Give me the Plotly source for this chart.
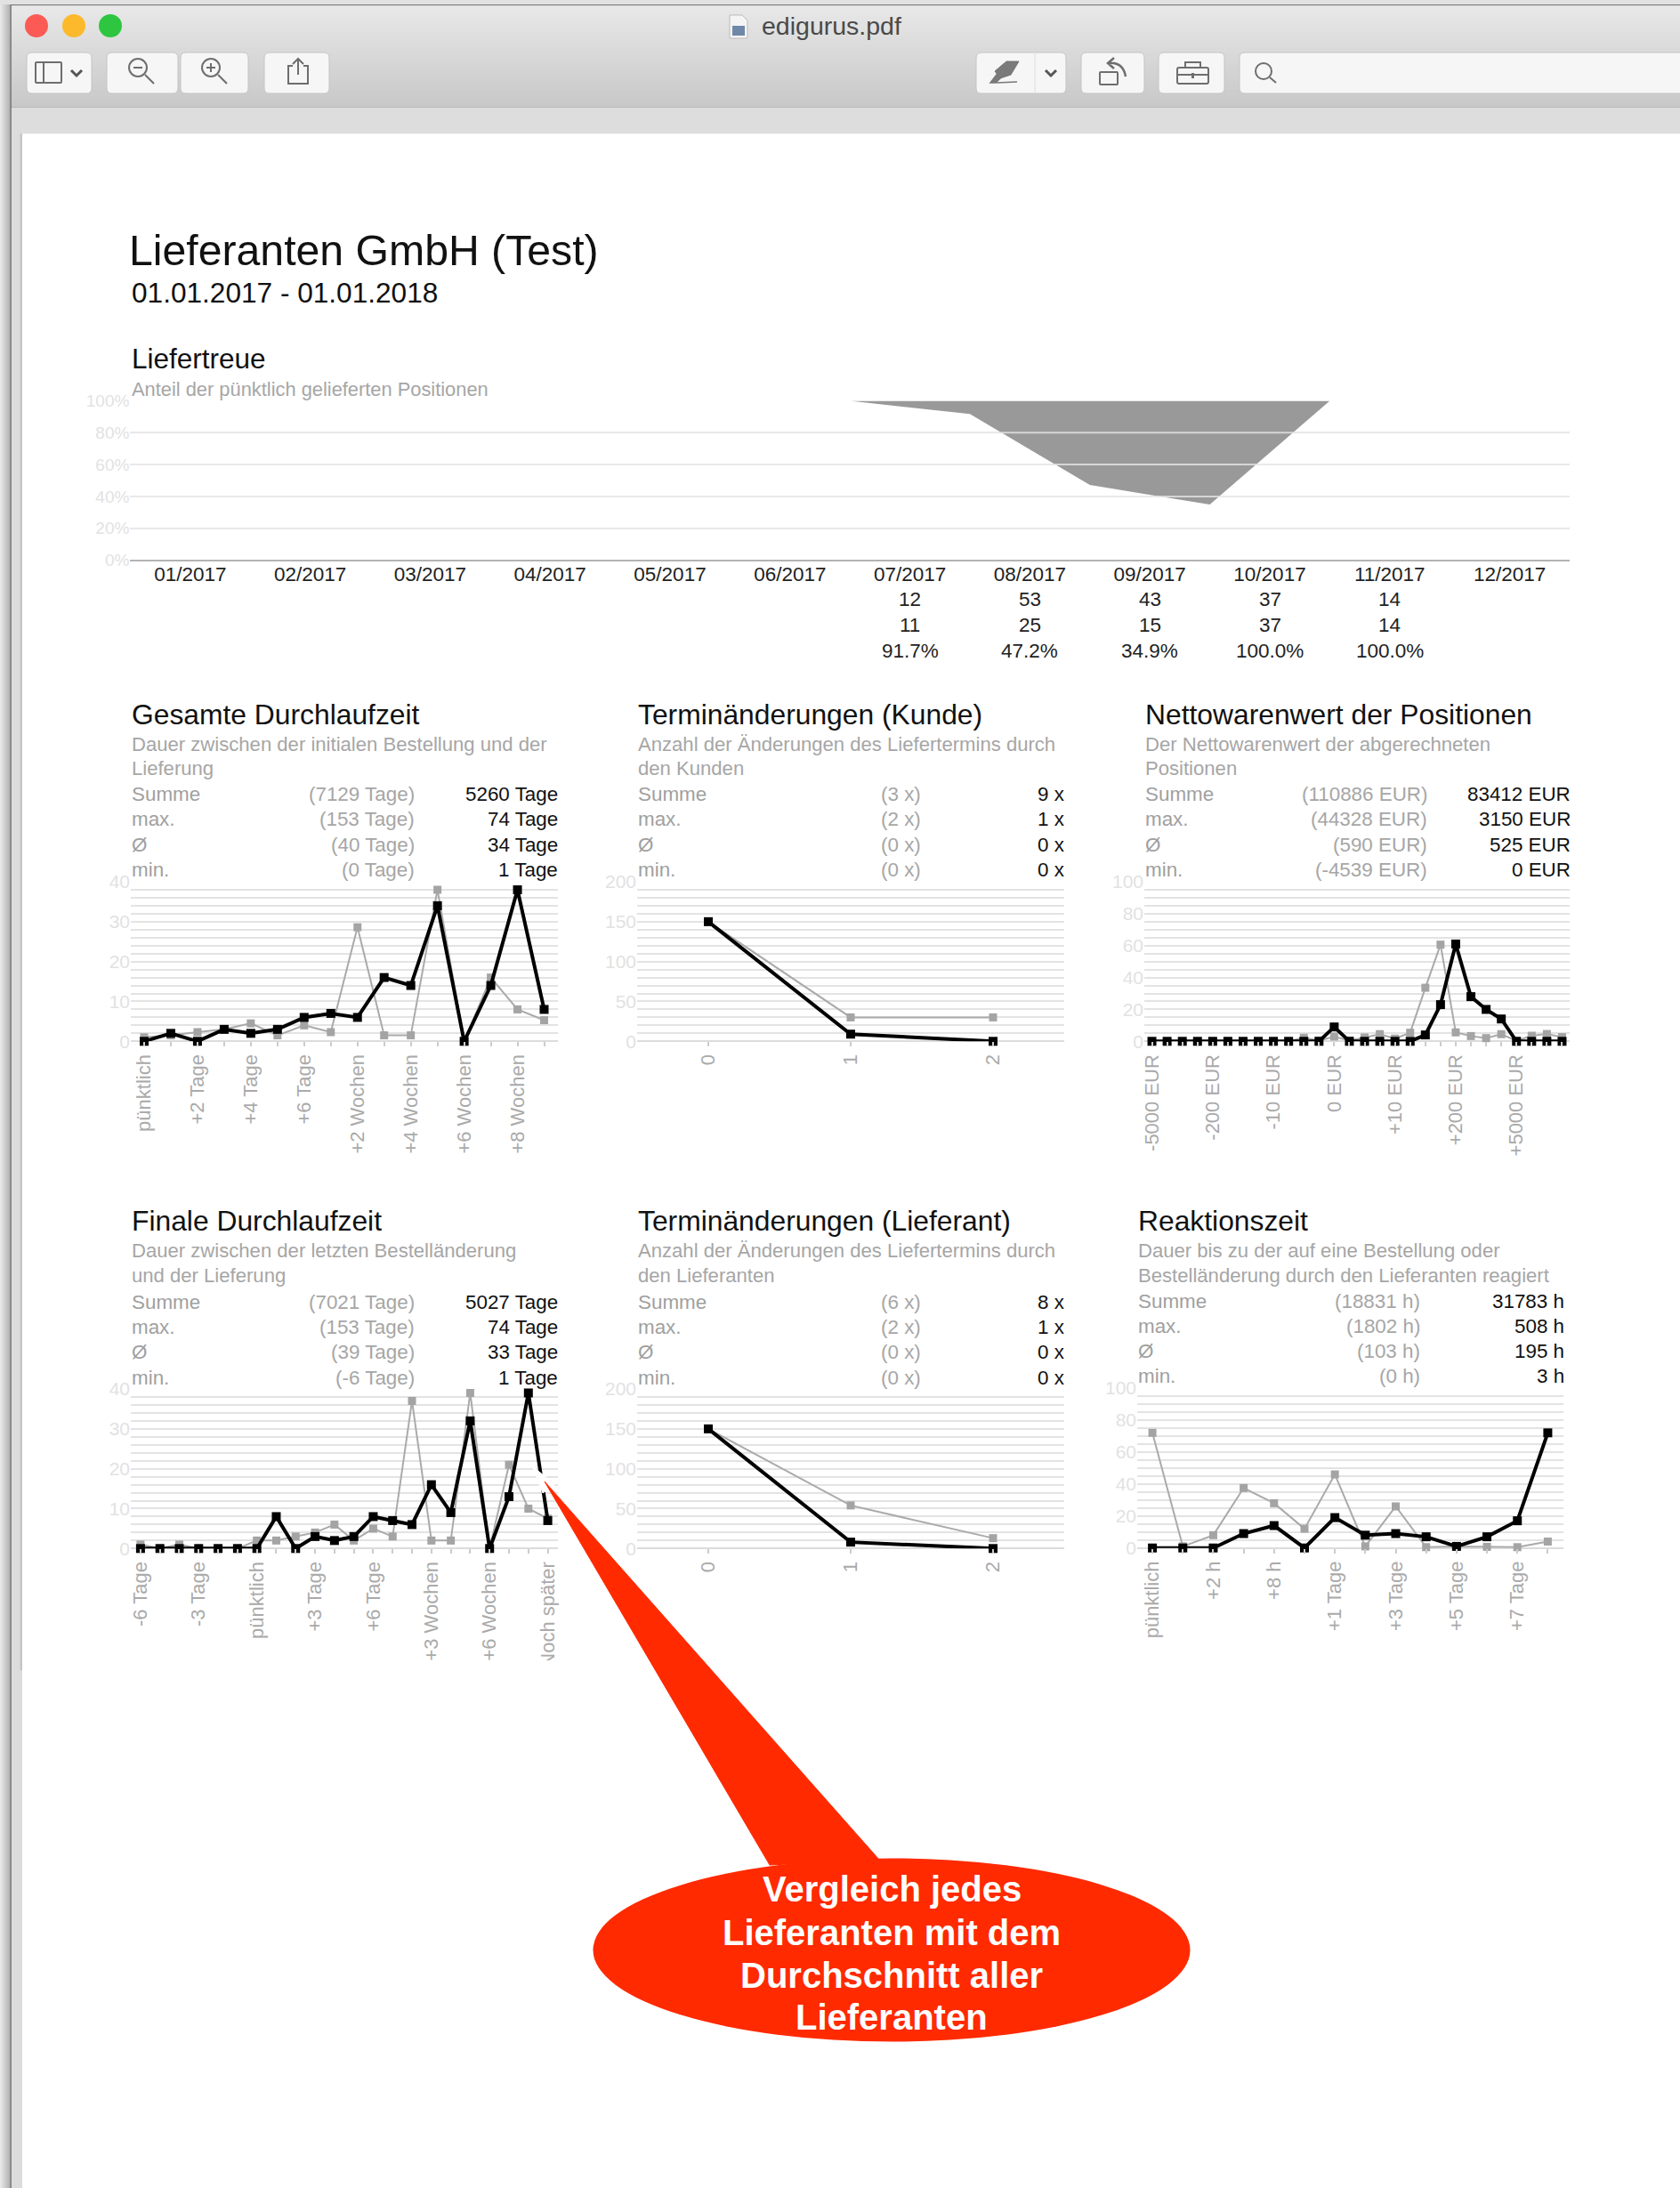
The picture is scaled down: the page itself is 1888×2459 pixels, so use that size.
import plotly.graph_objects as go

W, H = 1888, 2459
FONT = "Liberation Sans"

# ---------------- data ----------------
months = ["01/2017","02/2017","03/2017","04/2017","05/2017","06/2017","07/2017","08/2017","09/2017","10/2017","11/2017","12/2017"]
treue_edges = [6, 7, 8, 9, 10]
treue_values = [100, 91.7, 47.2, 34.9, 100]
treue_top = [100, 100, 100, 100, 100]
row_positions = ["12","53","43","37","14"]
row_ontime = ["11","25","15","37","14"]
row_share = ["91.7%","47.2%","34.9%","100.0%","100.0%"]
row_months = [6, 7, 8, 9, 10]

gesamt_labels = ["pünktlich","","+2 Tage","","+4 Tage","","+6 Tage","","+2 Wochen","","+4 Wochen","","+6 Wochen","","+8 Wochen",""]
gesamt_self = [0,2,0,3,2,3,6,7,6,16,14,34,0,14,38,8]
gesamt_all = [1,1.5,2.3,3,4.5,1.5,4,2.3,28.6,1.5,1.5,38,0,16,8,5.3]

kunde_labels = ["0","1","2"]
kunde_self = [150,9,0]
kunde_all = [150,30,30]

netto_labels = ["-5000 EUR","","","","-200 EUR","","","","-10 EUR","","","","0 EUR","","","","+10 EUR","","","","+200 EUR","","","","+5000 EUR","","",""]
netto_self = [0,0,0,0,0,0,0,0,0,0,0,0,9,0,0,0,0,0,4,23,61,28,20,14,0,0,0,0]
netto_all = [0,0,0,0,0,0,0,0,0,0,2.2,0.5,3,0.5,2.4,4.5,1.7,5.4,33.6,60.6,5.6,3.3,2,4.5,0.3,3.5,4.6,2.6]

final_labels = ["-6 Tage","","","-3 Tage","","","pünktlich","","","+3 Tage","","","+6 Tage","","","+3 Wochen","","","+6 Wochen","","","Noch später"]
final_self = [0,0,0,0,0,0,0,8,0,3,2,3,8,7,6,16,9,32,0,13,39,7]
final_all = [1,0,1,0,0,0,2,2,3,4,6,2,5,3,37,2,2,39,0,21,10,7.5]

liefer_labels = ["0","1","2"]
liefer_self = [150,8,0]
liefer_all = [150,54,13]

reakt_labels = ["pünktlich","","+2 h","","+8 h","","+1 Tage","","+3 Tage","","+5 Tage","","+7 Tage",""]
reakt_self = [0,0,0,9,14,0,19,8,9,7,1,7,17,72]
reakt_all = [72,1,8,37.5,28,12,46,1,26,0.5,1,0.7,0.5,4]

row_names = ["Summe","max.","Ø","min."]

panels = [
 dict(title="Gesamte Durchlaufzeit", sub=["Dauer zwischen der initialen Bestellung und der","Lieferung"],
      avg=["(7129 Tage)","(153 Tage)","(40 Tage)","(0 Tage)"], own=["5260 Tage","74 Tage","34 Tage","1 Tage"],
      labels=gesamt_labels, own_v=gesamt_self, all_v=gesamt_all, ymax=40, dmaj=10,
      box=(147,626.5,991,1170.3), ty=803, sy=(836,863), ry=(892,920,949,977), c2=467, c3=628),
 dict(title="Terminänderungen (Kunde)", sub=["Anzahl der Änderungen des Liefertermins durch","den Kunden"],
      avg=["(3 x)","(2 x)","(0 x)","(0 x)"], own=["9 x","1 x","0 x","0 x"],
      labels=kunde_labels, own_v=kunde_self, all_v=kunde_all, ymax=200, dmaj=50,
      box=(716,1196,991,1170.3), ty=803, sy=(836,863), ry=(892,920,949,977), c2=1036, c3=1196.5),
 dict(title="Nettowarenwert der Positionen", sub=["Der Nettowarenwert der abgerechneten","Positionen"],
      avg=["(110886 EUR)","(44328 EUR)","(590 EUR)","(-4539 EUR)"], own=["83412 EUR","3150 EUR","525 EUR","0 EUR"],
      labels=netto_labels, own_v=netto_self, all_v=netto_all, ymax=100, dmaj=20,
      box=(1286,1764,991,1170.3), ty=803, sy=(836,863), ry=(892,920,949,977), c2=1605, c3=1766),
 dict(title="Finale Durchlaufzeit", sub=["Dauer zwischen der letzten Bestelländerung","und der Lieferung"],
      avg=["(7021 Tage)","(153 Tage)","(39 Tage)","(-6 Tage)"], own=["5027 Tage","74 Tage","33 Tage","1 Tage"],
      labels=final_labels, own_v=final_self, all_v=final_all, ymax=40, dmaj=10,
      box=(147,626.5,1561,1740.3), ty=1372, sy=(1405,1433), ry=(1463,1491,1519,1548), c2=467, c3=628),
 dict(title="Terminänderungen (Lieferant)", sub=["Anzahl der Änderungen des Liefertermins durch","den Lieferanten"],
      avg=["(6 x)","(2 x)","(0 x)","(0 x)"], own=["8 x","1 x","0 x","0 x"],
      labels=liefer_labels, own_v=liefer_self, all_v=liefer_all, ymax=200, dmaj=50,
      box=(716,1196,1561,1740.3), ty=1372, sy=(1405,1433), ry=(1463,1491,1519,1548), c2=1036, c3=1196.5),
 dict(title="Reaktionszeit", sub=["Dauer bis zu der auf eine Bestellung oder","Bestelländerung durch den Lieferanten reagiert"],
      avg=["(18831 h)","(1802 h)","(103 h)","(0 h)"], own=["31783 h","508 h","195 h","3 h"],
      labels=reakt_labels, own_v=reakt_self, all_v=reakt_all, ymax=100, dmaj=20,
      box=(1278,1756.5,1560,1739.7), ty=1372, sy=(1405,1433), ry=(1462,1490,1518,1546), c2=1597, c3=1759),
]

# ---------------- figure ----------------
fig = go.Figure()
shapes, notes = [], []

layout = dict(width=W, height=H, margin=dict(l=0, r=0, t=0, b=0, pad=0, autoexpand=False), autosize=False,
              paper_bgcolor="white", plot_bgcolor="rgba(0,0,0,0)", showlegend=False,
              font=dict(family=FONT),
              xaxis=dict(domain=[0,1], range=[0,W], visible=False, fixedrange=True),
              yaxis=dict(domain=[0,1], range=[H,0], visible=False, fixedrange=True))

def rect(x0,y0,x1,y1,fill,layer="below",line=None,lw=0):
    shapes.append(dict(type="rect",xref="x",yref="y",x0=x0,y0=y0,x1=x1,y1=y1,fillcolor=fill,layer=layer,
                       line=dict(color=line or fill,width=lw)))
def circle(cx,cy,rx,ry,fill,layer="below",line=None,lw=0):
    shapes.append(dict(type="circle",xref="x",yref="y",x0=cx-rx,y0=cy-ry,x1=cx+rx,y1=cy+ry,fillcolor=fill,layer=layer,
                       line=dict(color=line or fill,width=lw)))
def path(d,line="#6e6e6e",lw=2,fill=None,layer="below"):
    s=dict(type="path",xref="x",yref="y",path=d,layer=layer,line=dict(color=line,width=lw))
    if fill: s["fillcolor"]=fill
    shapes.append(s)
def rrect(x0,y0,x1,y1,r,fill,line,lw=1):
    d=(f"M{x0+r},{y0} L{x1-r},{y0} Q{x1},{y0} {x1},{y0+r} L{x1},{y1-r} Q{x1},{y1} {x1-r},{y1} "
       f"L{x0+r},{y1} Q{x0},{y1} {x0},{y1-r} L{x0},{y0+r} Q{x0},{y0} {x0+r},{y0} Z")
    path(d,line=line,lw=lw,fill=fill)
def text(x,y,s,size,color,anchor="left",bold=False,family=FONT):
    notes.append(dict(xref="x",yref="y",x=x,y=y,text=f"<b>{s}</b>" if bold else s,showarrow=False,xanchor=anchor,
                      yanchor="middle",borderpad=0,font=dict(size=size,color=color,family=family)))

# ---------------- window chrome ----------------
def mix(a,b,t):
    return "#%02x%02x%02x"%tuple(round(a[i]+(b[i]-a[i])*t) for i in range(3))
for i in range(12):   # desktop shadow left of the window
    rect(i,0,i+1,H,mix((232,232,232),(176,176,176),i/11))
rect(0,0,W,5,"#e2e2e2")
rect(12,5,W,150,"#dcdcdc")
bands=46
for i in range(bands):
    y0=7+i*(120-7)/bands
    rect(12,y0,W,y0+(120-7)/bands+0.5,mix((232,232,232),(200,200,200),i/(bands-1)))
rect(12,120,W,121,"#b8b8b8")
rect(12,121,W,150,"#dddddd")
rect(12,150,25,H,"#dcdcdc")
rect(22.5,150,25,1877,"#c6c6c6")
rect(11.5,5,12.8,H,"#6f6f6f")
rect(12,5,W,6,"#7a7a7a")
rect(25,150,W,H,"#ffffff")
rect(25,150,W,151,"#f4f4f4")

circle(41,29,13,13,"#fc5a55")
circle(83,29,13,13,"#fdb92c")
circle(124,29,13,13,"#2ec640")

btn="#f6f6f6"; edge="#c4c4c4"
for x0,x1 in [(30,103),(120,200),(203,279),(297,370),(1097,1198),(1215,1286),(1302,1376),(1393,1900)]:
    rrect(x0,59,x1,105,6,btn,edge)
path("M1163,59 L1163,105",line="#dedede",lw=1)
ic="#6e6e6e"
rrect(40,70,69,93,1,None,ic,2)
path("M49,70 L49,93",line=ic,lw=2)
path("M80,79 L86,85 L92,79",line="#555",lw=3)
circle(155,76,10,10,"rgba(0,0,0,0)",line=ic,lw=2)
path("M150,76 L160,76 M163,84 L173,94",line=ic,lw=2)
circle(237,76,10,10,"rgba(0,0,0,0)",line=ic,lw=2)
path("M232,76 L242,76 M237,71 L237,81 M245,84 L255,94",line=ic,lw=2)
path("M329,74 L324,74 L324,94 L346,94 L346,74 L341,74 M335,84 L335,66 M329,72 L335,66 L341,72",line=ic,lw=2)
path("M1118,80 L1131,69 L1145,69 L1136,84 L1124,88 Z",line="#777",lw=1,fill="#7a7a7a")
path("M1113,93 L1120,84 L1124,88 L1119,93 Z M1120,93 L1143,92",line="#777",lw=1.5,fill="#7a7a7a")
path("M1175,79 L1181,85 L1187,79",line="#555",lw=3)
rrect(1236,81,1256,95,1,None,ic,2)
path("M1245,71 Q1262,69 1265,86 M1252,65 L1245,71 L1252,77",line=ic,lw=2.5)
rrect(1323,76,1358,94,2,None,ic,2)
path("M1332,76 L1332,70 L1349,70 L1349,76 M1323,84 L1358,84",line=ic,lw=2)
rect(1339,82,1342,88,"#6e6e6e")
circle(1420,80,9,9,"rgba(0,0,0,0)",line=ic,lw=2)
path("M1427,87 L1434,93",line=ic,lw=2)
path("M820,17 L834,17 L840,23 L840,43 L820,43 Z",line="#bbbbbb",lw=1,fill="#f4f4f4")
rect(823,29,837,40,"#6f88a8")
text(855,29,"edigurus.pdf",28.5,"#4a4a4a")

# ---------------- page heading ----------------
text(144,281,"Lieferanten GmbH (Test)",48.2,"#111111")
text(147,329,"01.01.2017 - 01.01.2018",31.6,"#111111")
text(147,403,"Liefertreue",31.5,"#111111")
text(147,437.5,"Anteil der pünktlich gelieferten Positionen",21.85,"#a6a6a6")

GRID="#e3e3e3"; TICKY="#e2e2e2"; TICKX="#aaaaaa"

# ---------------- Liefertreue ----------------
def dom(box):
    x0,x1,y0,y1=box
    return [x0/W,x1/W],[1-y1/H,1-y0/H]
dx,dy=dom((146.4,1764,450.5,629.5))
layout["xaxis2"]=dict(domain=dx,range=[0,12],anchor="y2",tickmode="array",
    tickvals=[i+0.5 for i in range(12)],ticktext=months,ticklen=0,showgrid=False,zeroline=False,
    showline=False,tickfont=dict(size=22.5,color="#222222",family=FONT),tickangle=0,fixedrange=True)
layout["yaxis2"]=dict(domain=dy,range=[0,100],anchor="x2",dtick=20,ticksuffix="%",gridcolor=GRID,gridwidth=2,
    zeroline=True,zerolinecolor="#b4b4b4",zerolinewidth=2,ticklen=0,tickfont=dict(size=19,color=TICKY,family=FONT),fixedrange=True)
fig.add_trace(go.Scatter(x=treue_edges,y=treue_top,xaxis="x2",yaxis="y2",mode="lines",line=dict(width=0),hoverinfo="skip"))
fig.add_trace(go.Scatter(x=treue_edges,y=treue_values,xaxis="x2",yaxis="y2",mode="lines",line=dict(width=0),
                         fill="tonexty",fillcolor="#999999"))
for v in [20,40,60,80]:
    shapes.append(dict(type="line",xref="x2 domain",yref="y2",x0=0,x1=1,y0=v,y1=v,layer="above",
                       line=dict(color="rgba(235,235,235,0.75)",width=2)))
for m,a,b,c in zip(row_months,row_positions,row_ontime,row_share):
    for y,s in ((673,a),(702,b),(731,c)):
        notes.append(dict(xref="x2",yref="y",x=m+0.5,y=y,text=s,showarrow=False,xanchor="center",yanchor="middle",
                          font=dict(size=22.5,color="#222222",family=FONT)))

# ---------------- six panels ----------------
for k,p in enumerate(panels):
    n=k+3; xa=f"x{n}"; ya=f"y{n}"
    x0,x1,y0,y1=p["box"]
    dx,dy=dom(p["box"])
    N=len(p["labels"])
    layout[f"xaxis{n}"]=dict(domain=dx,range=[-0.5,N-0.5],anchor=ya,tickmode="array",tickvals=list(range(N)),
        ticktext=p["labels"],tickangle=-90,ticks="outside",ticklen=5,tickwidth=1.5,tickcolor="#cccccc",showgrid=False,
        zeroline=False,showline=False,tickfont=dict(size=22,color=TICKX,family=FONT),fixedrange=True)
    layout[f"yaxis{n}"]=dict(domain=dy,range=[0,p["ymax"]],anchor=xa,dtick=p["dmaj"],gridcolor=GRID,gridwidth=2,
        minor=dict(dtick=p["ymax"]/20,showgrid=True,gridcolor=GRID,gridwidth=2,ticklen=0),
        zeroline=True,zerolinecolor="#dcdcdc",zerolinewidth=2,ticklen=0,
        tickfont=dict(size=21,color=TICKY,family=FONT),fixedrange=True)
    xs=list(range(N))
    fig.add_trace(go.Scatter(x=xs,y=p["all_v"],xaxis=xa,yaxis=ya,mode="lines+markers",cliponaxis=False,
        line=dict(color="#aaaaaa",width=2),marker=dict(symbol="square",size=9,color="#a4a4a4")))
    fig.add_trace(go.Scatter(x=xs,y=p["own_v"],xaxis=xa,yaxis=ya,mode="lines+markers",cliponaxis=False,
        line=dict(color="#000000",width=4),marker=dict(symbol="square",size=10,color="#000000")))
    text(x0,p["ty"],p["title"],31.8,"#111111")
    for y,s in zip(p["sy"],p["sub"]):
        text(x0,y,s,22.1,"#a6a6a6")
    for y,a,b,c in zip(p["ry"],row_names,p["avg"],p["own"]):
        text(x0,y,a,22.4,"#a0a0a0")
        text(p["c2"],y,b,22.4,"#a6a6a6",anchor="right")
        text(p["c3"],y,c,22.4,"#111111",anchor="right")

# ---------------- callout ----------------
rect(600,1866,640,1890,"#ffffff",layer="above")
path("M598,1648 L624,1668 L610,1678 Z",line="#ffffff",lw=1,fill="#ffffff",layer="above")
path("M612,1665 L988,2090 L865,2096 Z",line="#ff2a00",lw=1,fill="#ff2a00",layer="above")
circle(1002,2191.5,335.5,103,"#ff2a00",layer="above")
for y,s in zip((2123,2172,2220,2267),("Vergleich jedes","Lieferanten mit dem","Durchschnitt aller","Lieferanten")):
    text(1002,y,s,40,"#ffffff",anchor="center",bold=True)

layout["shapes"]=shapes
layout["annotations"]=notes
fig.update_layout(**layout)
fig.write_html("out.html",config=dict(displayModeBar=False,responsive=False),div_id="page",
               post_script="var g=document.getElementById('page');"
                           "g.style.position='fixed';g.style.left='0px';g.style.top='0px';g.style.margin='0px';"
                           "document.body.style.margin='0px';document.body.style.padding='0px';"
                           "document.documentElement.style.overflow='hidden';")
